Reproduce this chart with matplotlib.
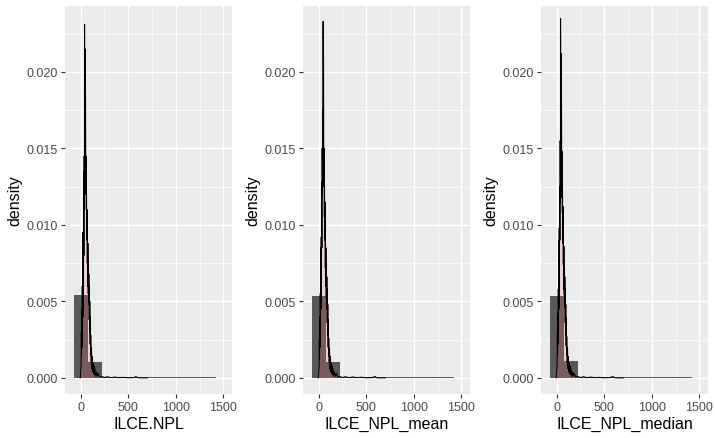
import numpy as np
import matplotlib.pyplot as plt

plt.rcParams['font.family'] = ['Liberation Sans', 'DejaVu Sans']

# column names shown under each panel
labels = ["ILCE.NPL", "ILCE_NPL_mean", "ILCE_NPL_median"]

# histogram (density scale), 10 bins of width 150
bin_edges = [-75, 75, 225, 375, 525, 675, 825, 975, 1125, 1275, 1425]
hist_npl = [0.00542, 0.00106, 0.00009, 0.00008, 0.00007, 0.00007, 0.00007, 0.00007, 0.00007, 0.00007]
hist_mean = [0.00533, 0.00106, 0.00009, 0.00008, 0.00007, 0.00007, 0.00007, 0.00007, 0.00007, 0.00007]
hist_median = [0.00535, 0.00108, 0.00009, 0.00008, 0.00007, 0.00007, 0.00007, 0.00007, 0.00007, 0.00007]

# kernel density (very spiky, small bandwidth)
dens_x_npl = [-5, 0, 4, 6, 9, 11, 14, 16, 19, 21, 24, 26, 29, 31, 34, 36, 39, 41, 44, 46,
              49, 51, 54, 56, 59, 61, 64, 66, 69, 71, 74, 76, 79, 81, 84, 86, 89, 91, 94, 96,
              99, 101, 104, 106, 110, 114, 118, 122, 126, 130, 135, 140, 145, 150, 158, 166,
              175, 185, 200, 220, 250, 280, 320, 360, 400, 440, 500, 560, 580, 600, 640, 700]
dens_y_npl = [0, 0.0005, 0.0008, 0.003, 0.0015, 0.0045, 0.002, 0.006, 0.003, 0.0095, 0.004,
              0.0088, 0.006, 0.0135, 0.008, 0.0145, 0.011, 0.0231, 0.0145, 0.0215, 0.0140,
              0.0185, 0.012, 0.0145, 0.011, 0.0125, 0.009, 0.0110, 0.0075, 0.0092, 0.006,
              0.0088, 0.0055, 0.0072, 0.0048, 0.0068, 0.0038, 0.0060, 0.003, 0.0050, 0.0022,
              0.0040, 0.0015, 0.0028, 0.0010, 0.0020, 0.0006, 0.0014, 0.0004, 0.0010, 0.0003,
              0.0008, 0.0002, 0.0006, 0.0001, 0.0004, 0.0001, 0.0003, 0.00005, 0.0001, 0.00003,
              0.00008, 0.00002, 0.00006, 0.00002, 0.00004, 0.00001, 0.00002, 0.0001, 0.00001, 0, 0]

dens_x_mean = [-5, 0, 4, 6, 9, 11, 14, 16, 19, 21, 24, 26, 29, 31, 34, 36, 39, 41, 44, 46,
               49, 51, 54, 56, 59, 61, 64, 66, 69, 71, 74, 76, 79, 81, 84, 86, 89, 91, 94, 96,
               99, 101, 104, 106, 110, 114, 118, 122, 126, 130, 135, 140, 145, 150, 158, 166,
               175, 185, 200, 220, 250, 280, 320, 360, 400, 440, 500, 560, 590, 610, 640, 700]
dens_y_mean = [0, 0.0004, 0.0007, 0.0025, 0.0012, 0.004, 0.002, 0.0055, 0.003, 0.0085, 0.0045,
               0.0092, 0.0065, 0.0128, 0.0085, 0.0150, 0.0120, 0.0175, 0.0140, 0.0233, 0.0150,
               0.0210, 0.0125, 0.0150, 0.0105, 0.0130, 0.0090, 0.0115, 0.0072, 0.0095, 0.0060,
               0.0085, 0.0052, 0.0075, 0.0045, 0.0066, 0.0036, 0.0058, 0.0028, 0.0048, 0.0020,
               0.0038, 0.0014, 0.0026, 0.0010, 0.0019, 0.0006, 0.0014, 0.0004, 0.0010, 0.0003,
               0.0008, 0.0002, 0.0006, 0.0001, 0.0004, 0.0001, 0.0003, 0.00005, 0.0001, 0.00003,
               0.00008, 0.00002, 0.00007, 0.00002, 0.00005, 0.00001, 0.00002, 0.0001, 0.00001, 0, 0]

dens_x_median = [-5, 0, 4, 6, 9, 11, 14, 16, 19, 21, 24, 26, 29, 31, 34, 36, 39, 41, 44, 46,
                 49, 51, 54, 56, 59, 61, 64, 66, 69, 71, 74, 76, 79, 81, 84, 86, 89, 91, 94, 96,
                 99, 101, 104, 106, 110, 114, 118, 122, 126, 130, 135, 140, 145, 150, 158, 166,
                 175, 185, 200, 220, 250, 280, 320, 360, 400, 440, 500, 560, 590, 610, 640, 700]
dens_y_median = [0, 0.0005, 0.0008, 0.0028, 0.0014, 0.0042, 0.0022, 0.0058, 0.0032, 0.0090,
                 0.0045, 0.0098, 0.0062, 0.0125, 0.0090, 0.0155, 0.0115, 0.0235, 0.0150, 0.0212,
                 0.0145, 0.0180, 0.0118, 0.0148, 0.0108, 0.0128, 0.0088, 0.0112, 0.0074, 0.0094,
                 0.0058, 0.0086, 0.0054, 0.0074, 0.0046, 0.0066, 0.0036, 0.0058, 0.0028, 0.0048,
                 0.0021, 0.0039, 0.0015, 0.0027, 0.0010, 0.0020, 0.0006, 0.0014, 0.0004, 0.0010,
                 0.0003, 0.0008, 0.0002, 0.0006, 0.0001, 0.0004, 0.0001, 0.0003, 0.00005, 0.0001,
                 0.00003, 0.00008, 0.00002, 0.00006, 0.00002, 0.00004, 0.00001, 0.00002, 0.0001,
                 0.00001, 0, 0]

hists = [hist_npl, hist_mean, hist_median]
dens = [(dens_x_npl, dens_y_npl), (dens_x_mean, dens_y_mean), (dens_x_median, dens_y_median)]

fig = plt.figure(figsize=(7.15, 4.39), dpi=100)
fig.patch.set_facecolor("white")

lefts = [65, 303, 541]
for i in range(3):
    ax = fig.add_axes([lefts[i] / 715, 1 - 395 / 439, 167 / 715, 388 / 439])
    ax.set_facecolor("#EBEBEB")
    ax.set_axisbelow(True)

    widths = np.diff(bin_edges)
    ax.bar(bin_edges[:-1], hists[i], width=widths, align="edge", color="#595959", linewidth=0)

    dx, dy = dens[i]
    ax.fill_between(dx, dy, color="#FF6666", alpha=0.2, linewidth=0)
    ax.plot(dx, dy, color="black", linewidth=0.7)

    ax.set_xlim(-165, 1590)
    ax.set_ylim(-0.00105, 0.0243)
    ax.set_xticks([0, 500, 1000, 1500])
    ax.set_xticks([250, 750, 1250], minor=True)
    ax.set_yticks([0, 0.005, 0.01, 0.015, 0.02])
    ax.set_yticklabels(["0.000", "0.005", "0.010", "0.015", "0.020"])
    ax.set_yticks([0.0025, 0.0075, 0.0125, 0.0175, 0.0225], minor=True)
    ax.grid(which="major", color="white", linewidth=1.0)
    ax.grid(which="minor", color="white", linewidth=0.5)
    for s in ax.spines.values():
        s.set_visible(False)
    ax.tick_params(which="major", length=3, width=0.8, color="#333333",
                   labelcolor="#4D4D4D", labelsize=9, pad=2)
    ax.tick_params(which="minor", length=0)
    ax.set_xlabel(labels[i], fontsize=11.5, labelpad=2)
    ax.set_ylabel("density", fontsize=11.5, labelpad=3)

fig.savefig("out.png", dpi=100)
